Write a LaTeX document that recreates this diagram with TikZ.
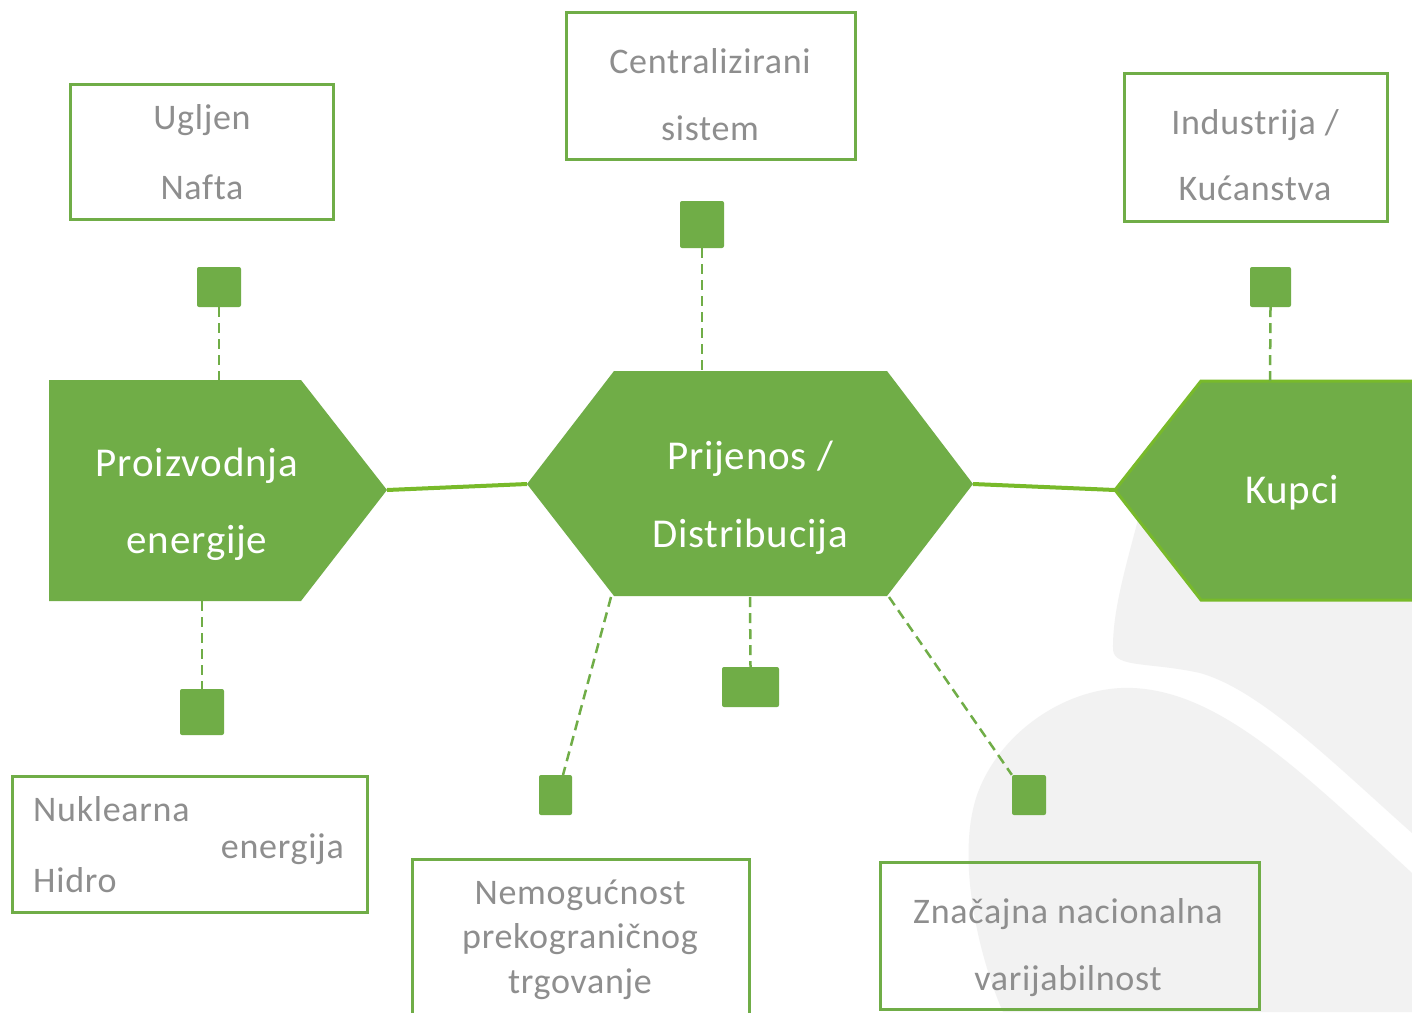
\documentclass[tikz,border=0pt]{standalone}
\usepackage{fontspec}
\setmainfont{Carlito}[LetterSpace=2,Ligatures={NoCommon}]
\usetikzlibrary{calc}
\definecolor{gfill}{HTML}{70AD47}
\definecolor{gline}{HTML}{78BA2A}
\definecolor{gtext}{HTML}{8E8E8E}
\definecolor{bgray}{HTML}{F2F2F2}
\tikzset{
  box/.style={draw=gfill, line width=3pt, fill=none, minimum width=#1, inner sep=0pt},
  gtxt/.style={text=gtext, font=\fontsize{36}{42}\selectfont, inner sep=0pt},
  wtxt/.style={text=white, font=\fontsize{41}{48}\selectfont, inner sep=0pt},
  sqr/.style={fill=gfill, rounded corners=2pt, inner sep=0pt},
  dashlink/.style={draw=gfill, line width=2.5pt, dash pattern=on 10pt off 6pt},
  solidlink/.style={draw=gline, line width=4pt},
}
\begin{document}
\begin{tikzpicture}[x=1pt,y=-1pt]
\clip (0,0) rectangle (1412,1012);
\fill[white] (0,0) rectangle (1412,1012);
% background watermark shapes
\fill[bgray] (1150,470) .. controls (1135,540) and (1112,600) .. (1113,650)
  .. controls (1115,668) and (1150,662) .. (1200,673)
  .. controls (1260,690) and (1330,760) .. (1412,833) -- (1412,470) -- cycle;
\fill[bgray] (1003,1012) .. controls (980,960) and (955,860) .. (977,795)
  .. controls (1000,730) and (1070,685) .. (1133,688)
  .. controls (1220,692) and (1300,770) .. (1412,873) -- (1412,1012) -- cycle;

% main shapes
\fill[gfill] (49,380) -- (301,380) -- (387,490) -- (301,601) -- (49,601) -- cycle;
\coordinate (pA) at (387,490);
\coordinate (pTop) at (219,380);
\coordinate (pBot) at (202,601);
\fill[gfill] (527,484) -- (614,371) -- (887,371) -- (973,484) -- (887,596) -- (614,596) -- cycle;
\coordinate (hL) at (527,484);
\coordinate (hR) at (973,484);
\coordinate (hTop) at (702,371);
\coordinate (hBL) at (611,597);
\coordinate (hB) at (750,597);
\coordinate (hBR) at (889,597);
\filldraw[fill=gfill, draw=gline, line width=3pt] (1115,490) -- (1201,381) -- (1420,381) -- (1420,600) -- (1201,600) -- cycle;
\coordinate (kL) at (1115,490);
\coordinate (kTop) at (1270,381);

% connectors
\draw[solidlink] (pA) -- (hL);
\draw[solidlink] (hR) -- (kL);

% small squares
\node[sqr, minimum width=44pt, minimum height=40pt] (s1) at (219,287) {};
\node[sqr, minimum width=44pt, minimum height=47pt] (s2) at (702,224.5) {};
\node[sqr, minimum width=41pt, minimum height=40pt] (s3) at (1270.5,287) {};
\node[sqr, minimum width=44pt, minimum height=46pt] (s4) at (202,712) {};
\node[sqr, minimum width=33pt, minimum height=40pt] (s5) at (555.5,795) {};
\node[sqr, minimum width=57pt, minimum height=40pt] (s6) at (750.5,687) {};
\node[sqr, minimum width=34pt, minimum height=40pt] (s7) at (1029,795) {};
\coordinate (s5top) at (563,775);

\draw[dashlink] (s1.south) -- (pTop);
\draw[dashlink] (s2.south) -- (hTop);
\draw[dashlink] (s3.south) -- (kTop);
\draw[dashlink] (pBot) -- (s4.north);
\draw[dashlink] (hBL) -- (s5top);
\draw[dashlink] (hB) -- (s6.north);
\draw[dashlink] (hBR) -- (s7.north west);

% text boxes
\node[box=263pt, minimum height=135pt] (b1) at (201.5,151.5) {};
\node[box=289pt, minimum height=147pt] (b2) at (710.5,85.5) {};
\node[box=263pt, minimum height=148pt] (b3) at (1255.5,147) {};
\node[box=355pt, minimum height=136pt] (b4) at (189.5,844) {};
\node[box=337pt, minimum height=175pt] (b5) at (580.5,946.5) {};
\node[box=379pt, minimum height=147pt] (b6) at (1069.5,935.5) {};

% gray texts
\node[gtxt, anchor=base] (t1a) at (202,129) {Ugljen};
\node[gtxt, anchor=base] (t1b) at (202,199) {Nafta};
\node[gtxt, anchor=base] (t2a) at (710,73) {Centralizirani};
\node[gtxt, anchor=base] (t2b) at (710,140) {sistem};
\node[gtxt, anchor=base] (t3a) at (1255,134) {Industrija /};
\node[gtxt, anchor=base] (t3b) at (1255,200) {Kućanstva};
\node[gtxt, anchor=base west] (t4a) at (33,821) {Nuklearna};
\node[gtxt, anchor=base east] (t4b) at (344,858) {energija};
\node[gtxt, anchor=base west] (t4c) at (33,892) {Hidro};
\node[gtxt, anchor=base] (t5a) at (580,904) {Nemogućnost};
\node[gtxt, anchor=base] (t5b) at (580,948) {prekograničnog};
\node[gtxt, anchor=base] (t5c) at (580,993) {trgovanje};
\node[gtxt, anchor=base] (t6a) at (1068,923) {Značajna nacionalna};
\node[gtxt, anchor=base] (t6b) at (1068,990) {varijabilnost};

% white texts
\node[wtxt, anchor=base] (w1a) at (197,476) {Proizvodnja};
\node[wtxt, anchor=base] (w1b) at (197,553) {energije};
\node[wtxt, anchor=base] (w2a) at (750,469) {Prijenos /};
\node[wtxt, anchor=base] (w2b) at (750,547) {Distribucija};
\node[wtxt, anchor=base] (w3) at (1292,503) {Kupci};
\end{tikzpicture}
\end{document}
